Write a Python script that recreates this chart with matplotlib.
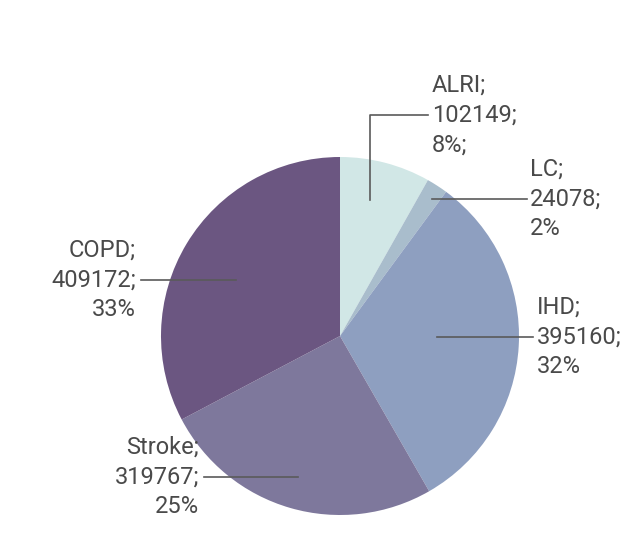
import matplotlib.pyplot as plt

# deaths by cause
causes = ["ALRI", "LC", "IHD", "Stroke", "COPD"]
deaths = [102149, 24078, 395160, 319767, 409172]
pct_text = ["8%;", "2%", "32%", "25%", "33%"]
colors = ["#d1e7e6", "#a9bdcc", "#8e9fc0", "#7e789c", "#6b5681"]

W, H = 637, 557
fig = plt.figure(figsize=(W / 100, H / 100), dpi=100)
ax = fig.add_axes([0, 0, 1, 1])
ax.set_xlim(0, W)
ax.set_ylim(0, H)
ax.set_aspect("equal")
ax.axis("off")

cx, cy, r = 340, H - 336, 179
ax.pie(deaths, colors=colors, startangle=90, counterclock=False,
       center=(cx, cy), radius=r, wedgeprops=dict(linewidth=0))
ax.set_xlim(0, W)
ax.set_ylim(0, H)

txt = dict(fontsize=17, color="#4a4a4a", family="Roboto", linespacing=1.38)
line = dict(color="#5a5a5a", lw=1.2)

def label(i):
    return "%s;\n%d;\n%s" % (causes[i], deaths[i], pct_text[i])

# ALRI: elbow leader
ax.plot([370, 370, 428], [H - 200, H - 115, H - 115], **line)
ax.text(432, H - 115, label(0), ha="left", va="center", **txt)
# LC
ax.plot([432, 527], [H - 199, H - 199], **line)
ax.text(530, H - 199, label(1), ha="left", va="center", **txt)
# IHD
ax.plot([437, 533], [H - 337, H - 337], **line)
ax.text(537, H - 337, label(2), ha="left", va="center", **txt)
# Stroke
ax.plot([204, 298], [H - 477, H - 477], **line)
ax.text(199, H - 477, label(3), ha="right", va="center", multialignment="right", **txt)
# COPD
ax.plot([141, 236], [H - 280, H - 280], **line)
ax.text(136, H - 280, label(4), ha="right", va="center", multialignment="right", **txt)

fig.savefig("out.png", dpi=100)
